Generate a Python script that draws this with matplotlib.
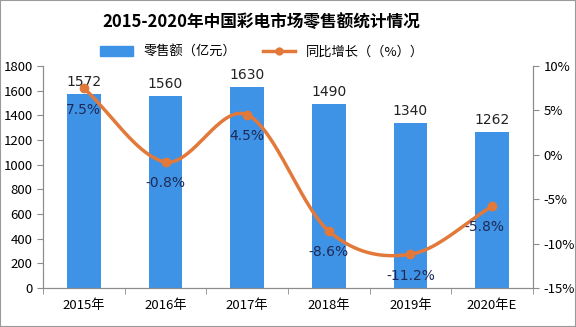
import numpy as np
import matplotlib
matplotlib.use("Agg")
import matplotlib.pyplot as plt
from matplotlib.lines import Line2D
from matplotlib.patches import Patch

plt.rcParams['font.family'] = ['Noto Sans CJK SC', 'DejaVu Sans']

years = ["2015年", "2016年", "2017年", "2018年", "2019年", "2020年E"]
sales = [1572, 1560, 1630, 1490, 1340, 1262]
growth = [7.5, -0.8, 4.5, -8.6, -11.2, -5.8]

bar_color = "#3F93E6"
line_color = "#E2793A"
label_color = "#1F2A55"
axis_color = "#8C8C8C"


def catmull_rom(xs, ys, n=40):
    # smooth curve through the given points
    xs = np.asarray(xs, float)
    ys = np.asarray(ys, float)
    px = np.concatenate([[2 * xs[0] - xs[1]], xs, [2 * xs[-1] - xs[-2]]])
    py = np.concatenate([[2 * ys[0] - ys[1]], ys, [2 * ys[-1] - ys[-2]]])
    out_x, out_y = [], []
    for i in range(1, len(px) - 2):
        t = np.linspace(0, 1, n, endpoint=False)
        for p, out in ((px, out_x), (py, out_y)):
            p0, p1, p2, p3 = p[i - 1], p[i], p[i + 1], p[i + 2]
            out.extend(0.5 * ((2 * p1) + (-p0 + p2) * t
                              + (2 * p0 - 5 * p1 + 4 * p2 - p3) * t ** 2
                              + (-p0 + 3 * p1 - 3 * p2 + p3) * t ** 3))
    out_x.append(xs[-1])
    out_y.append(ys[-1])
    return np.array(out_x), np.array(out_y)


fig = plt.figure(figsize=(5.76, 3.27), dpi=100)
ax = fig.add_axes([43 / 576, 1 - 288 / 327, 490 / 576, 222 / 327])
ax2 = ax.twinx()

x = np.arange(len(years))
ax.bar(x, sales, width=0.41, color=bar_color, zorder=2)
for xi, v in zip(x, sales):
    ax.text(xi, v + 40, str(v), ha="center", va="bottom", fontsize=10,
            color="#222222", family=["DejaVu Sans"])

ax.set_xlim(-0.5, len(years) - 0.5)
ax.set_ylim(0, 1800)
ax.set_yticks(range(0, 1801, 200))
ax.set_xticks(x)
ax.set_xticklabels(years, fontsize=9.5)
ax.set_xticks(np.arange(-0.5, len(years)), minor=True)
ax.tick_params(axis="x", which="major", length=0, pad=8)
ax.tick_params(axis="x", which="minor", length=4, color=axis_color)
ax.tick_params(axis="y", labelsize=9.5, color=axis_color, length=4)

sx, sy = catmull_rom(x, growth)
ax2.plot(sx, sy, color=line_color, lw=2.5, zorder=3)
ax2.plot(x, growth, "o", color=line_color, ms=6, zorder=4)
ax2.set_ylim(-15, 10)
ax2.set_yticks(range(-15, 11, 5))
ax2.set_yticklabels([f"{v}%" for v in range(-15, 11, 5)])
ax2.tick_params(axis="y", labelsize=9.5, color=axis_color, length=4)

offsets = [(0, -2.4), (0, -2.4), (0, -2.4), (0, -2.3), (0, -2.4), (-0.1, -2.3)]
for xi, g, (dx, dy) in zip(x, growth, offsets):
    ax2.text(xi + dx, g + dy, f"{g}%", ha="center", va="center", fontsize=10,
             color=label_color, family=["DejaVu Sans"])

for a in (ax, ax2):
    a.spines["top"].set_visible(False)
    for s in ("left", "right", "bottom"):
        a.spines[s].set_color(axis_color)

fig.text(261 / 576, 1 - 22 / 327, "2015-2020年中国彩电市场零售额统计情况",
         ha="center", va="center", fontsize=12, fontweight="bold")

handles = [Patch(color=bar_color),
           Line2D([0], [0], color=line_color, lw=2.5, marker="o", ms=5)]
fig.legend(handles, ["零售额（亿元）", "同比增长（（%））"], loc="center",
           bbox_to_anchor=(262 / 576, 1 - 52 / 327), ncol=2, frameon=False,
           fontsize=9.5, handlelength=2.5, columnspacing=2.0)

fig.patches.append(plt.Rectangle((0, 0), 1, 1, transform=fig.transFigure,
                                 fill=False, edgecolor="#9A9A9A", lw=1.5))

fig.savefig("out.png", dpi=100)
